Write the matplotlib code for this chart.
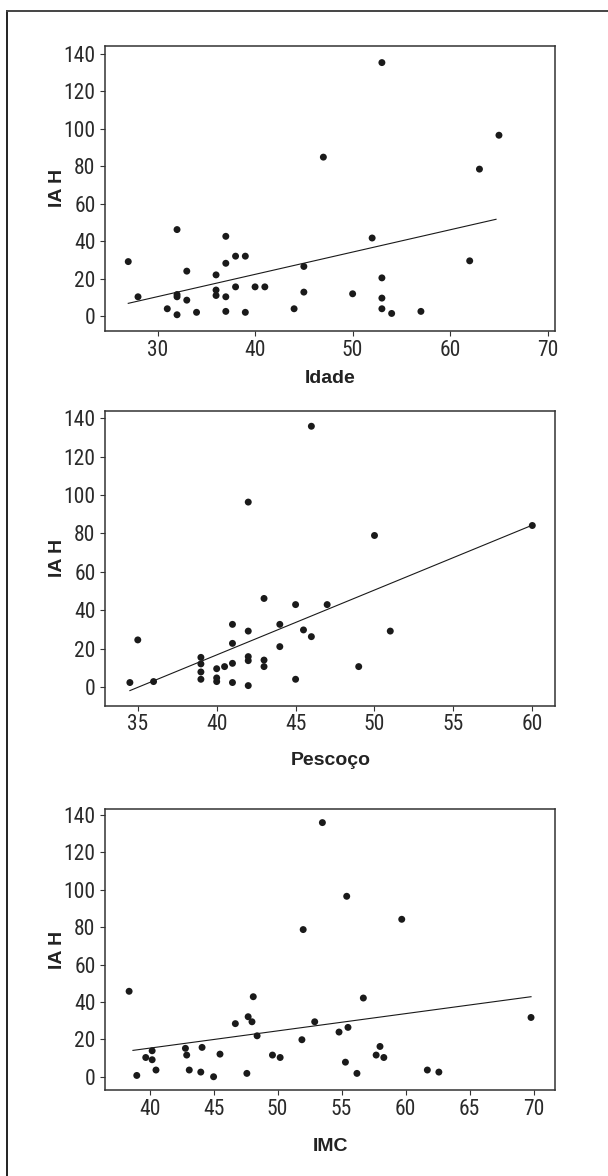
import numpy as np
import matplotlib
matplotlib.use("Agg")
import matplotlib.pyplot as plt
from matplotlib.lines import Line2D
from matplotlib import font_manager

# condensed face for the tick numbers, like the original
installed = {f.name for f in font_manager.fontManager.ttflist}
narrow_prefs = ['Liberation Sans Narrow', 'Arial Narrow', 'Roboto Condensed', 'Archivo Narrow',
                'PT Sans Narrow', 'Pragati Narrow', 'Fira Sans Condensed',
                'IBM Plex Sans Condensed', 'Open Sans Condensed']
narrow = [n for n in narrow_prefs if n in installed][:1]
plt.rcParams['font.family'] = narrow + ['Liberation Sans', 'DejaVu Sans']

# IA H vs Idade
idade = [27, 28, 31, 32, 32, 32, 32, 33, 33, 34, 36, 36, 36, 37, 37, 37, 37, 38, 38,
         39, 39, 40, 41, 44, 45, 45, 47, 50, 52, 53, 53, 53, 53, 54, 57, 62, 63, 65]
iah_idade = [29.1, 10.3, 3.9, 46.2, 11.5, 10.3, 0.7, 24, 8.5, 2, 22, 13.9, 11, 42.6, 28.2,
             10.3, 2.5, 32, 15.6, 32, 2, 15.6, 15.6, 3.9, 26.5, 12.8, 84.9, 11.9, 41.7,
             135.4, 20.4, 9.6, 3.9, 1.4, 2.5, 29.5, 78.5, 96.6]
fit_idade_x = [27, 64.7]
fit_idade_y = [6.8, 51.7]

# IA H vs Pescoco
pescoco = [34.5, 35, 36, 39, 39, 39, 39, 40, 40, 40, 40.5, 41, 41, 41, 41, 42, 42, 42, 42,
           42, 43, 43, 43, 44, 44, 45, 45, 45.5, 46, 46, 47, 49, 50, 51, 60]
iah_pescoco = [2.3, 24.5, 2.8, 15.4, 12, 7.8, 4, 9.5, 4.7, 2.8, 10.6, 32.6, 22.7, 12.3, 2.3,
               96.3, 29.1, 15.8, 13.7, 0.7, 46.1, 14, 10.6, 32.6, 21, 42.9, 4, 29.7, 135.8,
               26.2, 42.9, 10.6, 78.9, 29.1, 84.1]
fit_pescoco_x = [34.5, 59.8]
fit_pescoco_y = [-1.9, 83.6]

# IA H vs IMC
imc = [38.4, 39.0, 39.7, 40.2, 40.2, 40.5, 42.8, 42.9, 43.1, 44.0, 44.1, 45.0, 45.5, 46.7,
       47.6, 47.7, 48.0, 48.1, 48.4, 49.6, 50.2, 51.9, 52.0, 52.9, 53.5, 54.8, 55.3, 55.4,
       55.5, 56.2, 56.7, 57.7, 58.0, 58.3, 59.7, 61.7, 62.6, 69.8]
iah_imc = [45.7, 0.7, 10.3, 13.9, 9.1, 3.6, 15.2, 11.6, 3.6, 2.5, 15.7, 0, 12.1, 28.4, 1.8,
           32.1, 29.4, 42.8, 21.9, 11.6, 10.3, 19.8, 78.7, 29.4, 135.9, 23.9, 7.8, 96.5,
           26.4, 1.8, 42.1, 11.6, 16.2, 10.3, 84.2, 3.6, 2.5, 31.7]
fit_imc_x = [38.7, 69.8]
fit_imc_y = [14.1, 42.8]

yticks = np.arange(0, 141, 20)

panels = [
    dict(x=idade, y=iah_idade, fx=fit_idade_x, fy=fit_idade_y, label='Idade',
         xlim=(24.66, 70.78), ylim=(-8, 144.4), xticks=np.arange(30, 71, 10),
         rect=[0.1734, 0.7185, 0.740, 0.2426], lab_y=-0.135),
    dict(x=pescoco, y=iah_pescoco, fx=fit_pescoco_x, fy=fit_pescoco_y, label='Pescoço',
         xlim=(32.95, 61.46), ylim=(-9.9, 143.8), xticks=np.arange(35, 61, 5),
         rect=[0.1734, 0.3997, 0.740, 0.2509], lab_y=-0.157),
    dict(x=imc, y=iah_imc, fx=fit_imc_x, fy=fit_imc_y, label='IMC',
         xlim=(36.55, 71.7), ylim=(-7.1, 143), xticks=np.arange(40, 71, 5),
         rect=[0.1734, 0.0731, 0.740, 0.2387], lab_y=-0.172),
]

fig = plt.figure(figsize=(6.08, 11.76), dpi=100)

# outer frame (left and top edges only)
fig.add_artist(Line2D([7 / 608, 7 / 608], [0, 1 - 11 / 1176], color='#222222', lw=1.4))
fig.add_artist(Line2D([7 / 608, 1], [1 - 11 / 1176, 1 - 11 / 1176], color='#444444', lw=1.4))

for p in panels:
    ax = fig.add_axes(p['rect'])
    ax.scatter(p['x'], p['y'], s=25, color='#1a1a1a', edgecolors='none', zorder=3)
    ax.plot(p['fx'], p['fy'], color='#1a1a1a', lw=0.8)
    ax.set_xlim(*p['xlim'])
    ax.set_ylim(*p['ylim'])
    ax.set_xticks(p['xticks'])
    ax.set_yticks(yticks)
    for s in ax.spines.values():
        s.set_color('#333333')
        s.set_linewidth(1.1)
    ax.tick_params(direction='out', length=3.6, width=0.8, color='#333333',
                   labelsize=15.5, labelcolor='#2a2a2a')
    ax.tick_params(axis='x', pad=2.5)
    ax.tick_params(axis='y', pad=3.5)
    ax.set_xlabel(p['label'], fontsize=14, fontweight='bold', color='#222222',
                  family=['Liberation Sans', 'DejaVu Sans'])
    ax.xaxis.set_label_coords(0.5, p['lab_y'])
    ax.set_ylabel('IA H', fontsize=14, fontweight='bold', color='#222222',
                  family=['Liberation Sans', 'DejaVu Sans'])
    ax.yaxis.label.set_va('center')
    ax.yaxis.set_label_coords(-0.1065, 0.5)

fig.savefig('out.png', dpi=100)
